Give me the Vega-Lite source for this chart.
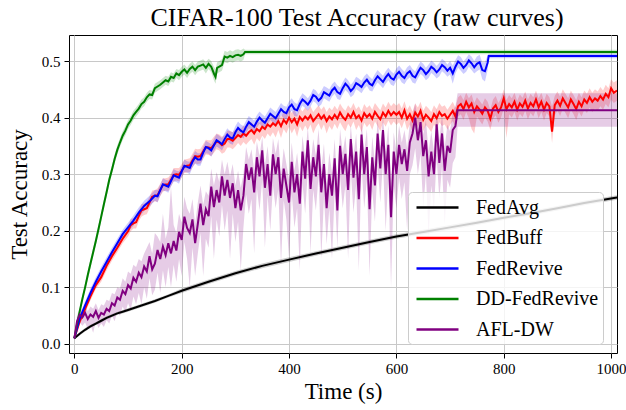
{
  "$schema": "https://vega.github.io/schema/vega-lite/v6.json",
  "width": 548,
  "height": 318,
  "autosize": {"type": "none"},
  "padding": {"left": 69, "top": 35, "right": 9, "bottom": 57},
  "background": "white",
  "title": {"text": "CIFAR-100 Test Accuracy (raw curves)", "font": "Liberation Serif", "fontSize": 26, "fontWeight": "normal", "color": "#000", "anchor": "middle", "frame": "group", "baseline": "alphabetic", "offset": 8, "dy": 25, "dx": 14},
  "config": {
    "view": {"stroke": "#000", "strokeWidth": 1},
    "axis": {"labelFont": "Liberation Serif", "labelFontSize": 15, "labelColor": "#000", "titleFont": "Liberation Serif", "titleFontSize": 23, "titleFontWeight": "normal", "titleColor": "#000", "gridColor": "#c8c8c8", "gridWidth": 1, "tickColor": "#000", "tickSize": 5, "domain": false},
    "legend": {"orient": "none", "legendX": 339, "legendY": 157, "fillColor": "rgba(255,255,255,0.8)", "strokeColor": "#cccccc", "cornerRadius": 4, "padding": 4, "symbolType": "M-2.1,0H2.1", "symbolSize": 400, "symbolStrokeWidth": 2.5, "symbolOpacity": 1, "symbolOffset": 14, "labelOffset": 27, "labelFont": "Liberation Serif", "labelFontSize": 20, "labelColor": "#000", "rowPadding": 8.5}
  },
  "datasets": {
    "runs": [
      {"m":"FedAvg","t":0,"y":0.010,"l":0.008,"h":0.012},
      {"m":"FedAvg","t":10,"y":0.018,"l":0.015,"h":0.021},
      {"m":"FedAvg","t":20,"y":0.025,"l":0.022,"h":0.028},
      {"m":"FedAvg","t":30,"y":0.031,"l":0.028,"h":0.034},
      {"m":"FedAvg","t":40,"y":0.036,"l":0.033,"h":0.039},
      {"m":"FedAvg","t":50,"y":0.041,"l":0.038,"h":0.044},
      {"m":"FedAvg","t":60,"y":0.046,"l":0.043,"h":0.049},
      {"m":"FedAvg","t":70,"y":0.050,"l":0.047,"h":0.053},
      {"m":"FedAvg","t":80,"y":0.054,"l":0.051,"h":0.057},
      {"m":"FedAvg","t":90,"y":0.057,"l":0.054,"h":0.060},
      {"m":"FedAvg","t":100,"y":0.060,"l":0.057,"h":0.063},
      {"m":"FedAvg","t":125,"y":0.068,"l":0.065,"h":0.071},
      {"m":"FedAvg","t":150,"y":0.076,"l":0.073,"h":0.079},
      {"m":"FedAvg","t":175,"y":0.085,"l":0.082,"h":0.088},
      {"m":"FedAvg","t":200,"y":0.094,"l":0.090,"h":0.098},
      {"m":"FedAvg","t":250,"y":0.110,"l":0.106,"h":0.114},
      {"m":"FedAvg","t":300,"y":0.125,"l":0.121,"h":0.129},
      {"m":"FedAvg","t":350,"y":0.138,"l":0.134,"h":0.142},
      {"m":"FedAvg","t":400,"y":0.149,"l":0.145,"h":0.153},
      {"m":"FedAvg","t":450,"y":0.160,"l":0.156,"h":0.164},
      {"m":"FedAvg","t":500,"y":0.170,"l":0.166,"h":0.174},
      {"m":"FedAvg","t":550,"y":0.180,"l":0.176,"h":0.184},
      {"m":"FedAvg","t":600,"y":0.190,"l":0.186,"h":0.194},
      {"m":"FedAvg","t":650,"y":0.198,"l":0.194,"h":0.202},
      {"m":"FedAvg","t":700,"y":0.206,"l":0.202,"h":0.210},
      {"m":"FedAvg","t":750,"y":0.214,"l":0.210,"h":0.218},
      {"m":"FedAvg","t":800,"y":0.223,"l":0.219,"h":0.227},
      {"m":"FedAvg","t":850,"y":0.231,"l":0.227,"h":0.235},
      {"m":"FedAvg","t":900,"y":0.240,"l":0.236,"h":0.244},
      {"m":"FedAvg","t":950,"y":0.249,"l":0.245,"h":0.253},
      {"m":"FedAvg","t":1011,"y":0.259,"l":0.255,"h":0.263},

      {"m":"FedBuff","t":0,"y":0.010,"l":0.008,"h":0.012},
      {"m":"FedBuff","t":10,"y":0.040,"l":0.034,"h":0.046},
      {"m":"FedBuff","t":20,"y":0.062,"l":0.055,"h":0.069},
      {"m":"FedBuff","t":30,"y":0.084,"l":0.077,"h":0.091},
      {"m":"FedBuff","t":40,"y":0.104,"l":0.097,"h":0.111},
      {"m":"FedBuff","t":50,"y":0.118,"l":0.110,"h":0.126},
      {"m":"FedBuff","t":60,"y":0.138,"l":0.130,"h":0.146},
      {"m":"FedBuff","t":70,"y":0.155,"l":0.147,"h":0.163},
      {"m":"FedBuff","t":80,"y":0.170,"l":0.162,"h":0.178},
      {"m":"FedBuff","t":90,"y":0.186,"l":0.178,"h":0.194},
      {"m":"FedBuff","t":100,"y":0.199,"l":0.190,"h":0.208},
      {"m":"FedBuff","t":105,"y":0.210,"l":0.199,"h":0.221},
      {"m":"FedBuff","t":110,"y":0.213,"l":0.204,"h":0.222},
      {"m":"FedBuff","t":115,"y":0.215,"l":0.204,"h":0.226},
      {"m":"FedBuff","t":120,"y":0.226,"l":0.217,"h":0.235},
      {"m":"FedBuff","t":125,"y":0.236,"l":0.225,"h":0.247},
      {"m":"FedBuff","t":130,"y":0.238,"l":0.228,"h":0.248},
      {"m":"FedBuff","t":135,"y":0.240,"l":0.229,"h":0.251},
      {"m":"FedBuff","t":140,"y":0.250,"l":0.240,"h":0.260},
      {"m":"FedBuff","t":145,"y":0.260,"l":0.249,"h":0.271},
      {"m":"FedBuff","t":150,"y":0.262,"l":0.252,"h":0.272},
      {"m":"FedBuff","t":155,"y":0.263,"l":0.251,"h":0.275},
      {"m":"FedBuff","t":160,"y":0.272,"l":0.261,"h":0.283},
      {"m":"FedBuff","t":165,"y":0.281,"l":0.269,"h":0.293},
      {"m":"FedBuff","t":170,"y":0.282,"l":0.271,"h":0.293},
      {"m":"FedBuff","t":175,"y":0.282,"l":0.270,"h":0.294},
      {"m":"FedBuff","t":180,"y":0.290,"l":0.279,"h":0.301},
      {"m":"FedBuff","t":185,"y":0.299,"l":0.287,"h":0.311},
      {"m":"FedBuff","t":190,"y":0.300,"l":0.289,"h":0.311},
      {"m":"FedBuff","t":195,"y":0.299,"l":0.287,"h":0.311},
      {"m":"FedBuff","t":200,"y":0.306,"l":0.294,"h":0.318},
      {"m":"FedBuff","t":205,"y":0.314,"l":0.302,"h":0.326},
      {"m":"FedBuff","t":210,"y":0.315,"l":0.303,"h":0.327},
      {"m":"FedBuff","t":215,"y":0.316,"l":0.304,"h":0.328},
      {"m":"FedBuff","t":220,"y":0.324,"l":0.312,"h":0.336},
      {"m":"FedBuff","t":225,"y":0.332,"l":0.319,"h":0.345},
      {"m":"FedBuff","t":230,"y":0.331,"l":0.318,"h":0.344},
      {"m":"FedBuff","t":235,"y":0.332,"l":0.319,"h":0.345},
      {"m":"FedBuff","t":240,"y":0.340,"l":0.327,"h":0.353},
      {"m":"FedBuff","t":245,"y":0.348,"l":0.335,"h":0.361},
      {"m":"FedBuff","t":250,"y":0.347,"l":0.334,"h":0.360},
      {"m":"FedBuff","t":255,"y":0.346,"l":0.332,"h":0.360},
      {"m":"FedBuff","t":260,"y":0.352,"l":0.338,"h":0.366},
      {"m":"FedBuff","t":265,"y":0.358,"l":0.344,"h":0.372},
      {"m":"FedBuff","t":270,"y":0.356,"l":0.342,"h":0.370},
      {"m":"FedBuff","t":275,"y":0.351,"l":0.336,"h":0.366},
      {"m":"FedBuff","t":280,"y":0.354,"l":0.339,"h":0.369},
      {"m":"FedBuff","t":285,"y":0.362,"l":0.347,"h":0.377},
      {"m":"FedBuff","t":290,"y":0.362,"l":0.347,"h":0.377},
      {"m":"FedBuff","t":295,"y":0.359,"l":0.344,"h":0.374},
      {"m":"FedBuff","t":300,"y":0.364,"l":0.349,"h":0.379},
      {"m":"FedBuff","t":305,"y":0.369,"l":0.355,"h":0.382},
      {"m":"FedBuff","t":310,"y":0.366,"l":0.350,"h":0.380},
      {"m":"FedBuff","t":315,"y":0.372,"l":0.357,"h":0.386},
      {"m":"FedBuff","t":320,"y":0.368,"l":0.352,"h":0.383},
      {"m":"FedBuff","t":325,"y":0.374,"l":0.358,"h":0.388},
      {"m":"FedBuff","t":330,"y":0.378,"l":0.362,"h":0.392},
      {"m":"FedBuff","t":335,"y":0.372,"l":0.352,"h":0.386},
      {"m":"FedBuff","t":340,"y":0.380,"l":0.364,"h":0.395},
      {"m":"FedBuff","t":345,"y":0.376,"l":0.358,"h":0.391},
      {"m":"FedBuff","t":350,"y":0.384,"l":0.368,"h":0.398},
      {"m":"FedBuff","t":355,"y":0.380,"l":0.362,"h":0.395},
      {"m":"FedBuff","t":360,"y":0.388,"l":0.372,"h":0.402},
      {"m":"FedBuff","t":365,"y":0.384,"l":0.366,"h":0.399},
      {"m":"FedBuff","t":370,"y":0.390,"l":0.374,"h":0.405},
      {"m":"FedBuff","t":375,"y":0.386,"l":0.365,"h":0.401},
      {"m":"FedBuff","t":380,"y":0.394,"l":0.378,"h":0.409},
      {"m":"FedBuff","t":385,"y":0.385,"l":0.364,"h":0.401},
      {"m":"FedBuff","t":390,"y":0.396,"l":0.380,"h":0.411},
      {"m":"FedBuff","t":395,"y":0.390,"l":0.372,"h":0.405},
      {"m":"FedBuff","t":400,"y":0.400,"l":0.384,"h":0.416},
      {"m":"FedBuff","t":405,"y":0.392,"l":0.372,"h":0.408},
      {"m":"FedBuff","t":410,"y":0.398,"l":0.381,"h":0.414},
      {"m":"FedBuff","t":415,"y":0.388,"l":0.366,"h":0.404},
      {"m":"FedBuff","t":420,"y":0.401,"l":0.385,"h":0.417},
      {"m":"FedBuff","t":425,"y":0.395,"l":0.376,"h":0.411},
      {"m":"FedBuff","t":430,"y":0.402,"l":0.386,"h":0.418},
      {"m":"FedBuff","t":435,"y":0.397,"l":0.378,"h":0.413},
      {"m":"FedBuff","t":440,"y":0.404,"l":0.388,"h":0.420},
      {"m":"FedBuff","t":445,"y":0.394,"l":0.372,"h":0.410},
      {"m":"FedBuff","t":450,"y":0.400,"l":0.383,"h":0.416},
      {"m":"FedBuff","t":455,"y":0.406,"l":0.390,"h":0.422},
      {"m":"FedBuff","t":460,"y":0.398,"l":0.378,"h":0.414},
      {"m":"FedBuff","t":465,"y":0.404,"l":0.388,"h":0.420},
      {"m":"FedBuff","t":470,"y":0.394,"l":0.372,"h":0.410},
      {"m":"FedBuff","t":475,"y":0.402,"l":0.385,"h":0.418},
      {"m":"FedBuff","t":480,"y":0.397,"l":0.378,"h":0.413},
      {"m":"FedBuff","t":485,"y":0.405,"l":0.389,"h":0.421},
      {"m":"FedBuff","t":490,"y":0.398,"l":0.380,"h":0.414},
      {"m":"FedBuff","t":495,"y":0.409,"l":0.392,"h":0.425},
      {"m":"FedBuff","t":500,"y":0.401,"l":0.383,"h":0.417},
      {"m":"FedBuff","t":505,"y":0.396,"l":0.376,"h":0.412},
      {"m":"FedBuff","t":510,"y":0.406,"l":0.389,"h":0.422},
      {"m":"FedBuff","t":515,"y":0.400,"l":0.382,"h":0.416},
      {"m":"FedBuff","t":520,"y":0.410,"l":0.393,"h":0.426},
      {"m":"FedBuff","t":525,"y":0.399,"l":0.378,"h":0.415},
      {"m":"FedBuff","t":530,"y":0.404,"l":0.387,"h":0.420},
      {"m":"FedBuff","t":535,"y":0.395,"l":0.374,"h":0.411},
      {"m":"FedBuff","t":540,"y":0.408,"l":0.391,"h":0.424},
      {"m":"FedBuff","t":545,"y":0.401,"l":0.383,"h":0.417},
      {"m":"FedBuff","t":550,"y":0.406,"l":0.389,"h":0.422},
      {"m":"FedBuff","t":555,"y":0.398,"l":0.378,"h":0.414},
      {"m":"FedBuff","t":560,"y":0.410,"l":0.393,"h":0.426},
      {"m":"FedBuff","t":565,"y":0.403,"l":0.385,"h":0.419},
      {"m":"FedBuff","t":570,"y":0.397,"l":0.376,"h":0.413},
      {"m":"FedBuff","t":575,"y":0.409,"l":0.392,"h":0.425},
      {"m":"FedBuff","t":580,"y":0.402,"l":0.384,"h":0.418},
      {"m":"FedBuff","t":585,"y":0.412,"l":0.395,"h":0.428},
      {"m":"FedBuff","t":590,"y":0.404,"l":0.386,"h":0.420},
      {"m":"FedBuff","t":595,"y":0.410,"l":0.393,"h":0.426},
      {"m":"FedBuff","t":600,"y":0.405,"l":0.387,"h":0.421},
      {"m":"FedBuff","t":605,"y":0.410,"l":0.392,"h":0.426},
      {"m":"FedBuff","t":610,"y":0.400,"l":0.381,"h":0.416},
      {"m":"FedBuff","t":615,"y":0.413,"l":0.395,"h":0.429},
      {"m":"FedBuff","t":620,"y":0.398,"l":0.378,"h":0.414},
      {"m":"FedBuff","t":625,"y":0.406,"l":0.388,"h":0.422},
      {"m":"FedBuff","t":630,"y":0.395,"l":0.375,"h":0.411},
      {"m":"FedBuff","t":635,"y":0.409,"l":0.391,"h":0.425},
      {"m":"FedBuff","t":640,"y":0.402,"l":0.383,"h":0.418},
      {"m":"FedBuff","t":645,"y":0.412,"l":0.394,"h":0.428},
      {"m":"FedBuff","t":650,"y":0.396,"l":0.376,"h":0.412},
      {"m":"FedBuff","t":655,"y":0.405,"l":0.387,"h":0.421},
      {"m":"FedBuff","t":660,"y":0.400,"l":0.381,"h":0.416},
      {"m":"FedBuff","t":665,"y":0.394,"l":0.374,"h":0.410},
      {"m":"FedBuff","t":670,"y":0.406,"l":0.388,"h":0.422},
      {"m":"FedBuff","t":675,"y":0.399,"l":0.380,"h":0.415},
      {"m":"FedBuff","t":680,"y":0.410,"l":0.392,"h":0.426},
      {"m":"FedBuff","t":685,"y":0.403,"l":0.385,"h":0.419},
      {"m":"FedBuff","t":690,"y":0.406,"l":0.388,"h":0.422},
      {"m":"FedBuff","t":695,"y":0.398,"l":0.379,"h":0.414},
      {"m":"FedBuff","t":700,"y":0.405,"l":0.387,"h":0.421},
      {"m":"FedBuff","t":705,"y":0.412,"l":0.394,"h":0.428},
      {"m":"FedBuff","t":710,"y":0.402,"l":0.383,"h":0.418},
      {"m":"FedBuff","t":715,"y":0.420,"l":0.402,"h":0.436},
      {"m":"FedBuff","t":720,"y":0.424,"l":0.406,"h":0.440},
      {"m":"FedBuff","t":725,"y":0.415,"l":0.396,"h":0.431},
      {"m":"FedBuff","t":730,"y":0.428,"l":0.410,"h":0.444},
      {"m":"FedBuff","t":735,"y":0.418,"l":0.399,"h":0.434},
      {"m":"FedBuff","t":740,"y":0.425,"l":0.380,"h":0.441},
      {"m":"FedBuff","t":745,"y":0.410,"l":0.372,"h":0.426},
      {"m":"FedBuff","t":750,"y":0.420,"l":0.402,"h":0.436},
      {"m":"FedBuff","t":755,"y":0.414,"l":0.395,"h":0.430},
      {"m":"FedBuff","t":760,"y":0.407,"l":0.388,"h":0.423},
      {"m":"FedBuff","t":765,"y":0.418,"l":0.400,"h":0.434},
      {"m":"FedBuff","t":770,"y":0.412,"l":0.393,"h":0.428},
      {"m":"FedBuff","t":775,"y":0.398,"l":0.378,"h":0.414},
      {"m":"FedBuff","t":780,"y":0.416,"l":0.398,"h":0.432},
      {"m":"FedBuff","t":785,"y":0.422,"l":0.404,"h":0.438},
      {"m":"FedBuff","t":790,"y":0.410,"l":0.391,"h":0.426},
      {"m":"FedBuff","t":795,"y":0.418,"l":0.400,"h":0.434},
      {"m":"FedBuff","t":800,"y":0.434,"l":0.416,"h":0.450},
      {"m":"FedBuff","t":805,"y":0.415,"l":0.364,"h":0.431},
      {"m":"FedBuff","t":810,"y":0.424,"l":0.406,"h":0.440},
      {"m":"FedBuff","t":815,"y":0.418,"l":0.400,"h":0.434},
      {"m":"FedBuff","t":820,"y":0.428,"l":0.410,"h":0.444},
      {"m":"FedBuff","t":825,"y":0.414,"l":0.395,"h":0.430},
      {"m":"FedBuff","t":830,"y":0.425,"l":0.407,"h":0.441},
      {"m":"FedBuff","t":835,"y":0.419,"l":0.401,"h":0.435},
      {"m":"FedBuff","t":840,"y":0.430,"l":0.412,"h":0.446},
      {"m":"FedBuff","t":845,"y":0.416,"l":0.397,"h":0.432},
      {"m":"FedBuff","t":850,"y":0.426,"l":0.408,"h":0.442},
      {"m":"FedBuff","t":855,"y":0.420,"l":0.402,"h":0.436},
      {"m":"FedBuff","t":860,"y":0.432,"l":0.414,"h":0.448},
      {"m":"FedBuff","t":865,"y":0.418,"l":0.399,"h":0.434},
      {"m":"FedBuff","t":870,"y":0.428,"l":0.410,"h":0.444},
      {"m":"FedBuff","t":875,"y":0.414,"l":0.395,"h":0.430},
      {"m":"FedBuff","t":880,"y":0.426,"l":0.408,"h":0.442},
      {"m":"FedBuff","t":885,"y":0.420,"l":0.402,"h":0.436},
      {"m":"FedBuff","t":890,"y":0.375,"l":0.355,"h":0.420},
      {"m":"FedBuff","t":895,"y":0.422,"l":0.404,"h":0.438},
      {"m":"FedBuff","t":900,"y":0.430,"l":0.412,"h":0.446},
      {"m":"FedBuff","t":905,"y":0.421,"l":0.403,"h":0.437},
      {"m":"FedBuff","t":910,"y":0.434,"l":0.416,"h":0.450},
      {"m":"FedBuff","t":915,"y":0.426,"l":0.408,"h":0.442},
      {"m":"FedBuff","t":920,"y":0.418,"l":0.399,"h":0.434},
      {"m":"FedBuff","t":925,"y":0.432,"l":0.414,"h":0.448},
      {"m":"FedBuff","t":930,"y":0.424,"l":0.406,"h":0.440},
      {"m":"FedBuff","t":935,"y":0.415,"l":0.396,"h":0.431},
      {"m":"FedBuff","t":940,"y":0.428,"l":0.410,"h":0.444},
      {"m":"FedBuff","t":945,"y":0.420,"l":0.402,"h":0.436},
      {"m":"FedBuff","t":950,"y":0.432,"l":0.414,"h":0.448},
      {"m":"FedBuff","t":955,"y":0.426,"l":0.408,"h":0.442},
      {"m":"FedBuff","t":960,"y":0.436,"l":0.418,"h":0.452},
      {"m":"FedBuff","t":965,"y":0.428,"l":0.410,"h":0.444},
      {"m":"FedBuff","t":970,"y":0.434,"l":0.416,"h":0.450},
      {"m":"FedBuff","t":975,"y":0.430,"l":0.412,"h":0.446},
      {"m":"FedBuff","t":980,"y":0.438,"l":0.420,"h":0.454},
      {"m":"FedBuff","t":985,"y":0.432,"l":0.414,"h":0.448},
      {"m":"FedBuff","t":990,"y":0.442,"l":0.424,"h":0.458},
      {"m":"FedBuff","t":995,"y":0.436,"l":0.418,"h":0.452},
      {"m":"FedBuff","t":1000,"y":0.452,"l":0.432,"h":0.468},
      {"m":"FedBuff","t":1005,"y":0.444,"l":0.426,"h":0.462},
      {"m":"FedBuff","t":1011,"y":0.448,"l":0.430,"h":0.466},

      {"m":"FedRevive","t":0,"y":0.010,"l":0.008,"h":0.012},
      {"m":"FedRevive","t":10,"y":0.045,"l":0.039,"h":0.051},
      {"m":"FedRevive","t":20,"y":0.068,"l":0.061,"h":0.075},
      {"m":"FedRevive","t":30,"y":0.090,"l":0.082,"h":0.098},
      {"m":"FedRevive","t":40,"y":0.110,"l":0.102,"h":0.118},
      {"m":"FedRevive","t":50,"y":0.128,"l":0.120,"h":0.136},
      {"m":"FedRevive","t":60,"y":0.145,"l":0.137,"h":0.153},
      {"m":"FedRevive","t":70,"y":0.162,"l":0.154,"h":0.170},
      {"m":"FedRevive","t":80,"y":0.178,"l":0.170,"h":0.186},
      {"m":"FedRevive","t":90,"y":0.194,"l":0.186,"h":0.202},
      {"m":"FedRevive","t":100,"y":0.206,"l":0.198,"h":0.214},
      {"m":"FedRevive","t":110,"y":0.218,"l":0.209,"h":0.227},
      {"m":"FedRevive","t":120,"y":0.232,"l":0.223,"h":0.241},
      {"m":"FedRevive","t":130,"y":0.244,"l":0.235,"h":0.253},
      {"m":"FedRevive","t":140,"y":0.252,"l":0.243,"h":0.262},
      {"m":"FedRevive","t":150,"y":0.262,"l":0.253,"h":0.272},
      {"m":"FedRevive","t":155,"y":0.261,"l":0.250,"h":0.272},
      {"m":"FedRevive","t":160,"y":0.272,"l":0.262,"h":0.282},
      {"m":"FedRevive","t":165,"y":0.282,"l":0.271,"h":0.293},
      {"m":"FedRevive","t":170,"y":0.280,"l":0.270,"h":0.290},
      {"m":"FedRevive","t":175,"y":0.278,"l":0.267,"h":0.289},
      {"m":"FedRevive","t":180,"y":0.288,"l":0.278,"h":0.298},
      {"m":"FedRevive","t":185,"y":0.298,"l":0.287,"h":0.309},
      {"m":"FedRevive","t":190,"y":0.296,"l":0.286,"h":0.306},
      {"m":"FedRevive","t":195,"y":0.294,"l":0.283,"h":0.305},
      {"m":"FedRevive","t":200,"y":0.305,"l":0.295,"h":0.315},
      {"m":"FedRevive","t":205,"y":0.315,"l":0.304,"h":0.326},
      {"m":"FedRevive","t":210,"y":0.313,"l":0.303,"h":0.323},
      {"m":"FedRevive","t":215,"y":0.311,"l":0.300,"h":0.322},
      {"m":"FedRevive","t":220,"y":0.322,"l":0.312,"h":0.332},
      {"m":"FedRevive","t":225,"y":0.330,"l":0.319,"h":0.341},
      {"m":"FedRevive","t":230,"y":0.326,"l":0.315,"h":0.337},
      {"m":"FedRevive","t":235,"y":0.326,"l":0.315,"h":0.337},
      {"m":"FedRevive","t":240,"y":0.338,"l":0.328,"h":0.348},
      {"m":"FedRevive","t":245,"y":0.348,"l":0.337,"h":0.359},
      {"m":"FedRevive","t":250,"y":0.346,"l":0.336,"h":0.356},
      {"m":"FedRevive","t":255,"y":0.342,"l":0.331,"h":0.353},
      {"m":"FedRevive","t":260,"y":0.351,"l":0.340,"h":0.362},
      {"m":"FedRevive","t":265,"y":0.360,"l":0.349,"h":0.371},
      {"m":"FedRevive","t":270,"y":0.357,"l":0.346,"h":0.368},
      {"m":"FedRevive","t":275,"y":0.353,"l":0.342,"h":0.364},
      {"m":"FedRevive","t":280,"y":0.362,"l":0.351,"h":0.373},
      {"m":"FedRevive","t":285,"y":0.370,"l":0.359,"h":0.381},
      {"m":"FedRevive","t":290,"y":0.365,"l":0.354,"h":0.376},
      {"m":"FedRevive","t":295,"y":0.363,"l":0.352,"h":0.374},
      {"m":"FedRevive","t":300,"y":0.374,"l":0.363,"h":0.385},
      {"m":"FedRevive","t":305,"y":0.382,"l":0.371,"h":0.393},
      {"m":"FedRevive","t":310,"y":0.377,"l":0.366,"h":0.388},
      {"m":"FedRevive","t":315,"y":0.374,"l":0.363,"h":0.385},
      {"m":"FedRevive","t":320,"y":0.384,"l":0.373,"h":0.395},
      {"m":"FedRevive","t":325,"y":0.392,"l":0.381,"h":0.403},
      {"m":"FedRevive","t":330,"y":0.388,"l":0.377,"h":0.399},
      {"m":"FedRevive","t":335,"y":0.384,"l":0.373,"h":0.395},
      {"m":"FedRevive","t":340,"y":0.393,"l":0.382,"h":0.404},
      {"m":"FedRevive","t":345,"y":0.400,"l":0.389,"h":0.411},
      {"m":"FedRevive","t":350,"y":0.395,"l":0.384,"h":0.406},
      {"m":"FedRevive","t":355,"y":0.391,"l":0.380,"h":0.402},
      {"m":"FedRevive","t":360,"y":0.399,"l":0.388,"h":0.410},
      {"m":"FedRevive","t":365,"y":0.407,"l":0.396,"h":0.418},
      {"m":"FedRevive","t":370,"y":0.403,"l":0.392,"h":0.414},
      {"m":"FedRevive","t":375,"y":0.399,"l":0.388,"h":0.410},
      {"m":"FedRevive","t":380,"y":0.407,"l":0.396,"h":0.418},
      {"m":"FedRevive","t":385,"y":0.415,"l":0.404,"h":0.426},
      {"m":"FedRevive","t":390,"y":0.410,"l":0.399,"h":0.421},
      {"m":"FedRevive","t":395,"y":0.408,"l":0.397,"h":0.419},
      {"m":"FedRevive","t":400,"y":0.418,"l":0.407,"h":0.429},
      {"m":"FedRevive","t":405,"y":0.423,"l":0.412,"h":0.434},
      {"m":"FedRevive","t":410,"y":0.415,"l":0.403,"h":0.427},
      {"m":"FedRevive","t":415,"y":0.413,"l":0.402,"h":0.424},
      {"m":"FedRevive","t":420,"y":0.424,"l":0.413,"h":0.435},
      {"m":"FedRevive","t":425,"y":0.432,"l":0.421,"h":0.443},
      {"m":"FedRevive","t":430,"y":0.428,"l":0.417,"h":0.439},
      {"m":"FedRevive","t":435,"y":0.423,"l":0.412,"h":0.434},
      {"m":"FedRevive","t":440,"y":0.430,"l":0.419,"h":0.441},
      {"m":"FedRevive","t":445,"y":0.440,"l":0.429,"h":0.451},
      {"m":"FedRevive","t":450,"y":0.437,"l":0.426,"h":0.448},
      {"m":"FedRevive","t":455,"y":0.430,"l":0.419,"h":0.441},
      {"m":"FedRevive","t":460,"y":0.435,"l":0.423,"h":0.447},
      {"m":"FedRevive","t":465,"y":0.445,"l":0.434,"h":0.456},
      {"m":"FedRevive","t":470,"y":0.442,"l":0.431,"h":0.453},
      {"m":"FedRevive","t":475,"y":0.439,"l":0.428,"h":0.450},
      {"m":"FedRevive","t":480,"y":0.448,"l":0.437,"h":0.459},
      {"m":"FedRevive","t":485,"y":0.453,"l":0.442,"h":0.464},
      {"m":"FedRevive","t":490,"y":0.445,"l":0.433,"h":0.457},
      {"m":"FedRevive","t":495,"y":0.442,"l":0.431,"h":0.453},
      {"m":"FedRevive","t":500,"y":0.452,"l":0.441,"h":0.463},
      {"m":"FedRevive","t":505,"y":0.460,"l":0.449,"h":0.471},
      {"m":"FedRevive","t":510,"y":0.455,"l":0.444,"h":0.466},
      {"m":"FedRevive","t":515,"y":0.447,"l":0.436,"h":0.458},
      {"m":"FedRevive","t":520,"y":0.452,"l":0.440,"h":0.464},
      {"m":"FedRevive","t":525,"y":0.461,"l":0.450,"h":0.472},
      {"m":"FedRevive","t":530,"y":0.458,"l":0.447,"h":0.469},
      {"m":"FedRevive","t":535,"y":0.454,"l":0.443,"h":0.465},
      {"m":"FedRevive","t":540,"y":0.462,"l":0.451,"h":0.473},
      {"m":"FedRevive","t":545,"y":0.467,"l":0.456,"h":0.478},
      {"m":"FedRevive","t":550,"y":0.460,"l":0.448,"h":0.472},
      {"m":"FedRevive","t":555,"y":0.457,"l":0.446,"h":0.468},
      {"m":"FedRevive","t":560,"y":0.466,"l":0.455,"h":0.477},
      {"m":"FedRevive","t":565,"y":0.473,"l":0.462,"h":0.484},
      {"m":"FedRevive","t":570,"y":0.468,"l":0.457,"h":0.479},
      {"m":"FedRevive","t":575,"y":0.463,"l":0.452,"h":0.474},
      {"m":"FedRevive","t":580,"y":0.471,"l":0.460,"h":0.482},
      {"m":"FedRevive","t":585,"y":0.477,"l":0.466,"h":0.488},
      {"m":"FedRevive","t":590,"y":0.470,"l":0.458,"h":0.482},
      {"m":"FedRevive","t":595,"y":0.467,"l":0.456,"h":0.478},
      {"m":"FedRevive","t":600,"y":0.476,"l":0.465,"h":0.487},
      {"m":"FedRevive","t":605,"y":0.481,"l":0.470,"h":0.492},
      {"m":"FedRevive","t":610,"y":0.474,"l":0.462,"h":0.486},
      {"m":"FedRevive","t":615,"y":0.470,"l":0.459,"h":0.481},
      {"m":"FedRevive","t":620,"y":0.478,"l":0.467,"h":0.489},
      {"m":"FedRevive","t":625,"y":0.482,"l":0.471,"h":0.493},
      {"m":"FedRevive","t":630,"y":0.474,"l":0.462,"h":0.486},
      {"m":"FedRevive","t":635,"y":0.471,"l":0.460,"h":0.482},
      {"m":"FedRevive","t":640,"y":0.480,"l":0.469,"h":0.491},
      {"m":"FedRevive","t":645,"y":0.488,"l":0.477,"h":0.499},
      {"m":"FedRevive","t":650,"y":0.484,"l":0.473,"h":0.495},
      {"m":"FedRevive","t":655,"y":0.477,"l":0.466,"h":0.488},
      {"m":"FedRevive","t":660,"y":0.482,"l":0.470,"h":0.494},
      {"m":"FedRevive","t":665,"y":0.490,"l":0.479,"h":0.501},
      {"m":"FedRevive","t":670,"y":0.486,"l":0.475,"h":0.497},
      {"m":"FedRevive","t":675,"y":0.480,"l":0.469,"h":0.491},
      {"m":"FedRevive","t":680,"y":0.485,"l":0.473,"h":0.497},
      {"m":"FedRevive","t":685,"y":0.493,"l":0.482,"h":0.504},
      {"m":"FedRevive","t":690,"y":0.489,"l":0.478,"h":0.500},
      {"m":"FedRevive","t":695,"y":0.483,"l":0.472,"h":0.494},
      {"m":"FedRevive","t":700,"y":0.488,"l":0.476,"h":0.500},
      {"m":"FedRevive","t":705,"y":0.478,"l":0.460,"h":0.492},
      {"m":"FedRevive","t":710,"y":0.490,"l":0.478,"h":0.502},
      {"m":"FedRevive","t":715,"y":0.499,"l":0.488,"h":0.510},
      {"m":"FedRevive","t":720,"y":0.495,"l":0.483,"h":0.507},
      {"m":"FedRevive","t":725,"y":0.488,"l":0.477,"h":0.499},
      {"m":"FedRevive","t":730,"y":0.493,"l":0.481,"h":0.505},
      {"m":"FedRevive","t":735,"y":0.501,"l":0.490,"h":0.512},
      {"m":"FedRevive","t":740,"y":0.496,"l":0.484,"h":0.508},
      {"m":"FedRevive","t":745,"y":0.489,"l":0.478,"h":0.500},
      {"m":"FedRevive","t":750,"y":0.495,"l":0.482,"h":0.508},
      {"m":"FedRevive","t":755,"y":0.498,"l":0.485,"h":0.511},
      {"m":"FedRevive","t":760,"y":0.484,"l":0.468,"h":0.498},
      {"m":"FedRevive","t":765,"y":0.482,"l":0.464,"h":0.498},
      {"m":"FedRevive","t":770,"y":0.497,"l":0.484,"h":0.510},
      {"m":"FedRevive","t":772,"y":0.509,"l":0.505,"h":0.513},
      {"m":"FedRevive","t":1011,"y":0.509,"l":0.505,"h":0.513},

      {"m":"DD-FedRevive","t":0,"y":0.010,"l":0.008,"h":0.012},
      {"m":"DD-FedRevive","t":5,"y":0.035,"l":0.030,"h":0.040},
      {"m":"DD-FedRevive","t":10,"y":0.058,"l":0.052,"h":0.064},
      {"m":"DD-FedRevive","t":15,"y":0.080,"l":0.073,"h":0.087},
      {"m":"DD-FedRevive","t":20,"y":0.100,"l":0.093,"h":0.107},
      {"m":"DD-FedRevive","t":25,"y":0.122,"l":0.114,"h":0.130},
      {"m":"DD-FedRevive","t":30,"y":0.142,"l":0.134,"h":0.150},
      {"m":"DD-FedRevive","t":35,"y":0.162,"l":0.154,"h":0.170},
      {"m":"DD-FedRevive","t":40,"y":0.182,"l":0.174,"h":0.190},
      {"m":"DD-FedRevive","t":45,"y":0.203,"l":0.195,"h":0.211},
      {"m":"DD-FedRevive","t":50,"y":0.225,"l":0.217,"h":0.233},
      {"m":"DD-FedRevive","t":55,"y":0.247,"l":0.239,"h":0.255},
      {"m":"DD-FedRevive","t":60,"y":0.268,"l":0.260,"h":0.276},
      {"m":"DD-FedRevive","t":65,"y":0.290,"l":0.282,"h":0.298},
      {"m":"DD-FedRevive","t":70,"y":0.308,"l":0.300,"h":0.316},
      {"m":"DD-FedRevive","t":75,"y":0.327,"l":0.319,"h":0.335},
      {"m":"DD-FedRevive","t":80,"y":0.343,"l":0.335,"h":0.351},
      {"m":"DD-FedRevive","t":85,"y":0.356,"l":0.348,"h":0.364},
      {"m":"DD-FedRevive","t":90,"y":0.368,"l":0.360,"h":0.376},
      {"m":"DD-FedRevive","t":95,"y":0.377,"l":0.369,"h":0.385},
      {"m":"DD-FedRevive","t":100,"y":0.388,"l":0.380,"h":0.396},
      {"m":"DD-FedRevive","t":105,"y":0.395,"l":0.387,"h":0.403},
      {"m":"DD-FedRevive","t":110,"y":0.404,"l":0.396,"h":0.412},
      {"m":"DD-FedRevive","t":115,"y":0.410,"l":0.402,"h":0.418},
      {"m":"DD-FedRevive","t":120,"y":0.416,"l":0.408,"h":0.424},
      {"m":"DD-FedRevive","t":125,"y":0.424,"l":0.416,"h":0.432},
      {"m":"DD-FedRevive","t":130,"y":0.428,"l":0.420,"h":0.436},
      {"m":"DD-FedRevive","t":135,"y":0.436,"l":0.428,"h":0.444},
      {"m":"DD-FedRevive","t":140,"y":0.441,"l":0.433,"h":0.449},
      {"m":"DD-FedRevive","t":145,"y":0.440,"l":0.432,"h":0.448},
      {"m":"DD-FedRevive","t":150,"y":0.452,"l":0.444,"h":0.460},
      {"m":"DD-FedRevive","t":155,"y":0.455,"l":0.447,"h":0.463},
      {"m":"DD-FedRevive","t":160,"y":0.458,"l":0.450,"h":0.466},
      {"m":"DD-FedRevive","t":165,"y":0.462,"l":0.454,"h":0.470},
      {"m":"DD-FedRevive","t":170,"y":0.466,"l":0.458,"h":0.474},
      {"m":"DD-FedRevive","t":175,"y":0.464,"l":0.456,"h":0.472},
      {"m":"DD-FedRevive","t":180,"y":0.472,"l":0.464,"h":0.480},
      {"m":"DD-FedRevive","t":185,"y":0.470,"l":0.462,"h":0.478},
      {"m":"DD-FedRevive","t":190,"y":0.478,"l":0.470,"h":0.486},
      {"m":"DD-FedRevive","t":195,"y":0.475,"l":0.466,"h":0.484},
      {"m":"DD-FedRevive","t":200,"y":0.481,"l":0.472,"h":0.490},
      {"m":"DD-FedRevive","t":205,"y":0.485,"l":0.476,"h":0.494},
      {"m":"DD-FedRevive","t":210,"y":0.479,"l":0.470,"h":0.488},
      {"m":"DD-FedRevive","t":215,"y":0.486,"l":0.477,"h":0.495},
      {"m":"DD-FedRevive","t":220,"y":0.490,"l":0.481,"h":0.499},
      {"m":"DD-FedRevive","t":225,"y":0.484,"l":0.475,"h":0.493},
      {"m":"DD-FedRevive","t":230,"y":0.490,"l":0.481,"h":0.499},
      {"m":"DD-FedRevive","t":235,"y":0.492,"l":0.483,"h":0.501},
      {"m":"DD-FedRevive","t":240,"y":0.494,"l":0.485,"h":0.503},
      {"m":"DD-FedRevive","t":245,"y":0.488,"l":0.478,"h":0.498},
      {"m":"DD-FedRevive","t":250,"y":0.495,"l":0.486,"h":0.504},
      {"m":"DD-FedRevive","t":255,"y":0.490,"l":0.480,"h":0.500},
      {"m":"DD-FedRevive","t":260,"y":0.478,"l":0.466,"h":0.490},
      {"m":"DD-FedRevive","t":263,"y":0.472,"l":0.460,"h":0.486},
      {"m":"DD-FedRevive","t":266,"y":0.488,"l":0.478,"h":0.498},
      {"m":"DD-FedRevive","t":270,"y":0.490,"l":0.480,"h":0.500},
      {"m":"DD-FedRevive","t":275,"y":0.493,"l":0.483,"h":0.503},
      {"m":"DD-FedRevive","t":280,"y":0.508,"l":0.498,"h":0.518},
      {"m":"DD-FedRevive","t":285,"y":0.506,"l":0.496,"h":0.516},
      {"m":"DD-FedRevive","t":290,"y":0.509,"l":0.499,"h":0.519},
      {"m":"DD-FedRevive","t":295,"y":0.507,"l":0.497,"h":0.517},
      {"m":"DD-FedRevive","t":300,"y":0.510,"l":0.500,"h":0.520},
      {"m":"DD-FedRevive","t":305,"y":0.511,"l":0.501,"h":0.521},
      {"m":"DD-FedRevive","t":310,"y":0.509,"l":0.499,"h":0.519},
      {"m":"DD-FedRevive","t":315,"y":0.512,"l":0.502,"h":0.522},
      {"m":"DD-FedRevive","t":318,"y":0.516,"l":0.512,"h":0.520},
      {"m":"DD-FedRevive","t":1011,"y":0.516,"l":0.512,"h":0.520},

      {"m":"AFL-DW","t":0,"y":0.010,"l":0.008,"h":0.012},
      {"m":"AFL-DW","t":5,"y":0.040,"l":0.030,"h":0.050},
      {"m":"AFL-DW","t":10,"y":0.052,"l":0.038,"h":0.064},
      {"m":"AFL-DW","t":15,"y":0.047,"l":0.032,"h":0.060},
      {"m":"AFL-DW","t":20,"y":0.055,"l":0.038,"h":0.068},
      {"m":"AFL-DW","t":25,"y":0.044,"l":0.026,"h":0.058},
      {"m":"AFL-DW","t":30,"y":0.052,"l":0.034,"h":0.066},
      {"m":"AFL-DW","t":35,"y":0.048,"l":0.020,"h":0.062},
      {"m":"AFL-DW","t":40,"y":0.058,"l":0.040,"h":0.072},
      {"m":"AFL-DW","t":45,"y":0.046,"l":0.028,"h":0.060},
      {"m":"AFL-DW","t":50,"y":0.055,"l":0.036,"h":0.070},
      {"m":"AFL-DW","t":55,"y":0.052,"l":0.030,"h":0.068},
      {"m":"AFL-DW","t":60,"y":0.062,"l":0.042,"h":0.078},
      {"m":"AFL-DW","t":65,"y":0.058,"l":0.036,"h":0.076},
      {"m":"AFL-DW","t":70,"y":0.072,"l":0.050,"h":0.090},
      {"m":"AFL-DW","t":75,"y":0.068,"l":0.040,"h":0.088},
      {"m":"AFL-DW","t":80,"y":0.082,"l":0.058,"h":0.100},
      {"m":"AFL-DW","t":85,"y":0.078,"l":0.050,"h":0.098},
      {"m":"AFL-DW","t":90,"y":0.094,"l":0.066,"h":0.116},
      {"m":"AFL-DW","t":95,"y":0.088,"l":0.056,"h":0.110},
      {"m":"AFL-DW","t":100,"y":0.104,"l":0.072,"h":0.128},
      {"m":"AFL-DW","t":105,"y":0.098,"l":0.060,"h":0.124},
      {"m":"AFL-DW","t":110,"y":0.117,"l":0.084,"h":0.140},
      {"m":"AFL-DW","t":115,"y":0.110,"l":0.070,"h":0.136},
      {"m":"AFL-DW","t":120,"y":0.126,"l":0.090,"h":0.150},
      {"m":"AFL-DW","t":125,"y":0.118,"l":0.070,"h":0.146},
      {"m":"AFL-DW","t":130,"y":0.137,"l":0.100,"h":0.160},
      {"m":"AFL-DW","t":135,"y":0.128,"l":0.080,"h":0.170},
      {"m":"AFL-DW","t":140,"y":0.155,"l":0.116,"h":0.180},
      {"m":"AFL-DW","t":145,"y":0.132,"l":0.086,"h":0.160},
      {"m":"AFL-DW","t":150,"y":0.142,"l":0.096,"h":0.196},
      {"m":"AFL-DW","t":155,"y":0.166,"l":0.126,"h":0.190},
      {"m":"AFL-DW","t":160,"y":0.150,"l":0.090,"h":0.180},
      {"m":"AFL-DW","t":165,"y":0.172,"l":0.130,"h":0.230},
      {"m":"AFL-DW","t":170,"y":0.157,"l":0.100,"h":0.186},
      {"m":"AFL-DW","t":175,"y":0.178,"l":0.136,"h":0.206},
      {"m":"AFL-DW","t":180,"y":0.160,"l":0.100,"h":0.278},
      {"m":"AFL-DW","t":185,"y":0.182,"l":0.140,"h":0.210},
      {"m":"AFL-DW","t":190,"y":0.165,"l":0.110,"h":0.196},
      {"m":"AFL-DW","t":195,"y":0.198,"l":0.150,"h":0.230},
      {"m":"AFL-DW","t":200,"y":0.184,"l":0.120,"h":0.214},
      {"m":"AFL-DW","t":205,"y":0.225,"l":0.180,"h":0.260},
      {"m":"AFL-DW","t":210,"y":0.205,"l":0.150,"h":0.240},
      {"m":"AFL-DW","t":215,"y":0.196,"l":0.100,"h":0.230},
      {"m":"AFL-DW","t":220,"y":0.220,"l":0.170,"h":0.256},
      {"m":"AFL-DW","t":225,"y":0.178,"l":0.120,"h":0.212},
      {"m":"AFL-DW","t":230,"y":0.212,"l":0.160,"h":0.250},
      {"m":"AFL-DW","t":235,"y":0.248,"l":0.196,"h":0.280},
      {"m":"AFL-DW","t":240,"y":0.210,"l":0.120,"h":0.246},
      {"m":"AFL-DW","t":245,"y":0.238,"l":0.186,"h":0.270},
      {"m":"AFL-DW","t":250,"y":0.226,"l":0.170,"h":0.262},
      {"m":"AFL-DW","t":255,"y":0.278,"l":0.226,"h":0.310},
      {"m":"AFL-DW","t":260,"y":0.242,"l":0.150,"h":0.280},
      {"m":"AFL-DW","t":265,"y":0.272,"l":0.220,"h":0.304},
      {"m":"AFL-DW","t":270,"y":0.250,"l":0.190,"h":0.286},
      {"m":"AFL-DW","t":275,"y":0.296,"l":0.246,"h":0.326},
      {"m":"AFL-DW","t":280,"y":0.262,"l":0.200,"h":0.300},
      {"m":"AFL-DW","t":285,"y":0.290,"l":0.236,"h":0.322},
      {"m":"AFL-DW","t":290,"y":0.258,"l":0.150,"h":0.296},
      {"m":"AFL-DW","t":295,"y":0.284,"l":0.230,"h":0.318},
      {"m":"AFL-DW","t":300,"y":0.240,"l":0.180,"h":0.280},
      {"m":"AFL-DW","t":305,"y":0.272,"l":0.216,"h":0.306},
      {"m":"AFL-DW","t":310,"y":0.236,"l":0.130,"h":0.276},
      {"m":"AFL-DW","t":315,"y":0.262,"l":0.206,"h":0.300},
      {"m":"AFL-DW","t":320,"y":0.318,"l":0.264,"h":0.348},
      {"m":"AFL-DW","t":325,"y":0.290,"l":0.230,"h":0.326},
      {"m":"AFL-DW","t":330,"y":0.312,"l":0.256,"h":0.344},
      {"m":"AFL-DW","t":335,"y":0.268,"l":0.160,"h":0.306},
      {"m":"AFL-DW","t":340,"y":0.330,"l":0.276,"h":0.358},
      {"m":"AFL-DW","t":345,"y":0.296,"l":0.236,"h":0.332},
      {"m":"AFL-DW","t":350,"y":0.342,"l":0.290,"h":0.366},
      {"m":"AFL-DW","t":355,"y":0.276,"l":0.170,"h":0.316},
      {"m":"AFL-DW","t":360,"y":0.318,"l":0.262,"h":0.350},
      {"m":"AFL-DW","t":365,"y":0.262,"l":0.200,"h":0.300},
      {"m":"AFL-DW","t":370,"y":0.335,"l":0.280,"h":0.364},
      {"m":"AFL-DW","t":375,"y":0.300,"l":0.240,"h":0.336},
      {"m":"AFL-DW","t":380,"y":0.330,"l":0.274,"h":0.362},
      {"m":"AFL-DW","t":385,"y":0.258,"l":0.140,"h":0.298},
      {"m":"AFL-DW","t":390,"y":0.310,"l":0.254,"h":0.346},
      {"m":"AFL-DW","t":395,"y":0.280,"l":0.220,"h":0.318},
      {"m":"AFL-DW","t":400,"y":0.250,"l":0.150,"h":0.290},
      {"m":"AFL-DW","t":405,"y":0.322,"l":0.266,"h":0.356},
      {"m":"AFL-DW","t":410,"y":0.268,"l":0.206,"h":0.306},
      {"m":"AFL-DW","t":415,"y":0.300,"l":0.240,"h":0.338},
      {"m":"AFL-DW","t":420,"y":0.248,"l":0.130,"h":0.290},
      {"m":"AFL-DW","t":425,"y":0.340,"l":0.284,"h":0.368},
      {"m":"AFL-DW","t":430,"y":0.292,"l":0.230,"h":0.330},
      {"m":"AFL-DW","t":435,"y":0.360,"l":0.306,"h":0.384},
      {"m":"AFL-DW","t":440,"y":0.274,"l":0.160,"h":0.314},
      {"m":"AFL-DW","t":445,"y":0.330,"l":0.272,"h":0.362},
      {"m":"AFL-DW","t":450,"y":0.296,"l":0.236,"h":0.334},
      {"m":"AFL-DW","t":455,"y":0.352,"l":0.298,"h":0.380},
      {"m":"AFL-DW","t":460,"y":0.268,"l":0.150,"h":0.308},
      {"m":"AFL-DW","t":465,"y":0.318,"l":0.258,"h":0.354},
      {"m":"AFL-DW","t":470,"y":0.240,"l":0.176,"h":0.282},
      {"m":"AFL-DW","t":475,"y":0.300,"l":0.240,"h":0.338},
      {"m":"AFL-DW","t":480,"y":0.262,"l":0.150,"h":0.302},
      {"m":"AFL-DW","t":485,"y":0.328,"l":0.270,"h":0.362},
      {"m":"AFL-DW","t":490,"y":0.236,"l":0.170,"h":0.278},
      {"m":"AFL-DW","t":495,"y":0.350,"l":0.296,"h":0.380},
      {"m":"AFL-DW","t":500,"y":0.300,"l":0.240,"h":0.338},
      {"m":"AFL-DW","t":505,"y":0.336,"l":0.280,"h":0.368},
      {"m":"AFL-DW","t":510,"y":0.272,"l":0.150,"h":0.312},
      {"m":"AFL-DW","t":515,"y":0.362,"l":0.306,"h":0.388},
      {"m":"AFL-DW","t":520,"y":0.294,"l":0.232,"h":0.332},
      {"m":"AFL-DW","t":525,"y":0.340,"l":0.282,"h":0.372},
      {"m":"AFL-DW","t":530,"y":0.256,"l":0.130,"h":0.298},
      {"m":"AFL-DW","t":535,"y":0.370,"l":0.316,"h":0.396},
      {"m":"AFL-DW","t":540,"y":0.300,"l":0.240,"h":0.340},
      {"m":"AFL-DW","t":545,"y":0.348,"l":0.290,"h":0.380},
      {"m":"AFL-DW","t":550,"y":0.238,"l":0.120,"h":0.282},
      {"m":"AFL-DW","t":555,"y":0.330,"l":0.270,"h":0.366},
      {"m":"AFL-DW","t":560,"y":0.280,"l":0.216,"h":0.320},
      {"m":"AFL-DW","t":565,"y":0.372,"l":0.316,"h":0.398},
      {"m":"AFL-DW","t":570,"y":0.310,"l":0.250,"h":0.348},
      {"m":"AFL-DW","t":575,"y":0.378,"l":0.322,"h":0.404},
      {"m":"AFL-DW","t":580,"y":0.300,"l":0.200,"h":0.340},
      {"m":"AFL-DW","t":585,"y":0.352,"l":0.296,"h":0.386},
      {"m":"AFL-DW","t":590,"y":0.224,"l":0.100,"h":0.270},
      {"m":"AFL-DW","t":595,"y":0.340,"l":0.280,"h":0.374},
      {"m":"AFL-DW","t":600,"y":0.300,"l":0.240,"h":0.340},
      {"m":"AFL-DW","t":605,"y":0.352,"l":0.294,"h":0.386},
      {"m":"AFL-DW","t":610,"y":0.318,"l":0.256,"h":0.356},
      {"m":"AFL-DW","t":615,"y":0.344,"l":0.286,"h":0.378},
      {"m":"AFL-DW","t":620,"y":0.306,"l":0.200,"h":0.346},
      {"m":"AFL-DW","t":625,"y":0.356,"l":0.300,"h":0.390},
      {"m":"AFL-DW","t":630,"y":0.372,"l":0.316,"h":0.404},
      {"m":"AFL-DW","t":635,"y":0.400,"l":0.346,"h":0.426},
      {"m":"AFL-DW","t":640,"y":0.360,"l":0.300,"h":0.396},
      {"m":"AFL-DW","t":645,"y":0.392,"l":0.336,"h":0.420},
      {"m":"AFL-DW","t":650,"y":0.332,"l":0.240,"h":0.370},
      {"m":"AFL-DW","t":655,"y":0.360,"l":0.300,"h":0.396},
      {"m":"AFL-DW","t":660,"y":0.296,"l":0.190,"h":0.340},
      {"m":"AFL-DW","t":665,"y":0.340,"l":0.280,"h":0.376},
      {"m":"AFL-DW","t":670,"y":0.300,"l":0.236,"h":0.340},
      {"m":"AFL-DW","t":675,"y":0.388,"l":0.330,"h":0.418},
      {"m":"AFL-DW","t":680,"y":0.320,"l":0.256,"h":0.360},
      {"m":"AFL-DW","t":685,"y":0.372,"l":0.314,"h":0.406},
      {"m":"AFL-DW","t":690,"y":0.306,"l":0.210,"h":0.348},
      {"m":"AFL-DW","t":695,"y":0.350,"l":0.290,"h":0.388},
      {"m":"AFL-DW","t":700,"y":0.338,"l":0.276,"h":0.376},
      {"m":"AFL-DW","t":705,"y":0.378,"l":0.320,"h":0.412},
      {"m":"AFL-DW","t":710,"y":0.385,"l":0.330,"h":0.420},
      {"m":"AFL-DW","t":714,"y":0.413,"l":0.384,"h":0.443},
      {"m":"AFL-DW","t":1011,"y":0.413,"l":0.384,"h":0.443}
    ]
  },
  "data": {"name": "runs"},
  "encoding": {
    "x": {"field": "t", "type": "quantitative", "scale": {"domain": [-10, 1011], "nice": false, "zero": false},
      "axis": {"title": "Time (s)", "values": [0, 200, 400, 600, 800, 1000], "format": "d", "labelPadding": 3, "titlePadding": 4}},
    "color": {"field": "m", "type": "nominal",
      "scale": {"domain": ["FedAvg", "FedBuff", "FedRevive", "DD-FedRevive", "AFL-DW"], "range": ["#000000", "#ff0000", "#0000ff", "#008000", "#800080"]},
      "legend": {"title": null}}
  },
  "layer": [
    {
      "mark": {"type": "area", "opacity": 0.2, "clip": true},
      "encoding": {
        "y": {"field": "l", "type": "quantitative", "scale": {"domain": [-0.016, 0.546], "nice": false, "zero": false},
          "axis": {"title": "Test Accuracy", "values": [0, 0.1, 0.2, 0.3, 0.4, 0.5], "format": ".1f", "labelPadding": 4, "titlePadding": 10}},
        "y2": {"field": "h"}
      }
    },
    {
      "mark": {"type": "line", "strokeWidth": 2, "clip": true},
      "encoding": {
        "y": {"field": "y", "type": "quantitative"}
      }
    }
  ]
}
